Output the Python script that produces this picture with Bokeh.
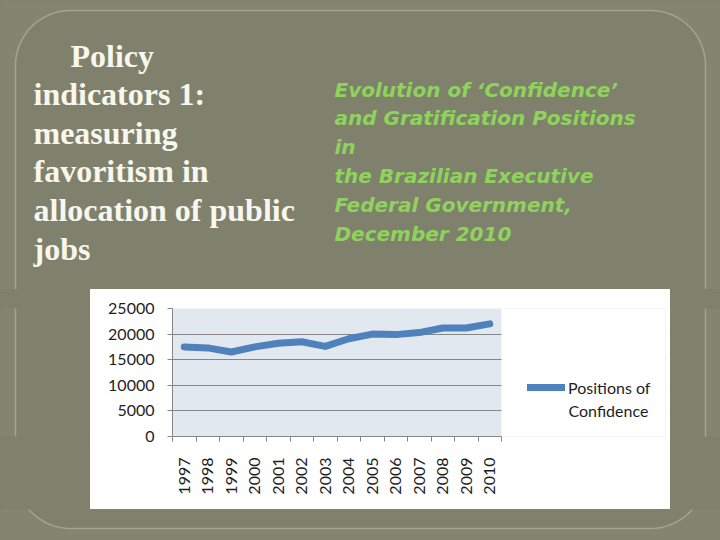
import math
from bokeh.plotting import figure
from bokeh.layouts import column, row
from bokeh.models import Range1d, FixedTicker, BoxAnnotation, Label, Legend, LegendItem
from bokeh.embed import file_html
from bokeh.resources import INLINE

# ---------------- data ----------------
years = ["1997", "1998", "1999", "2000", "2001", "2002", "2003",
         "2004", "2005", "2006", "2007", "2008", "2009", "2010"]
positions = [17500, 17300, 16500, 17500, 18200, 18500, 17600,
             19100, 20000, 19900, 20300, 21200, 21200, 22000]
y_ticks = [0, 5000, 10000, 15000, 20000, 25000]
series_label = ["Positions of", "Confidence"]
title_lines = ["Policy", "indicators 1:", "measuring", "favoritism in",
               "allocation of public", "jobs"]
subtitle_lines = ["Evolution of \u2018Confidence\u2019", "and Gratification Positions", "in",
                  "the Brazilian Executive", "Federal Government,", "December 2010"]

OUT = "#838571"
INNER = "#7f816d"
EDGE = "#a2a490"

# chart box (page pixels) and its plot frame borders
BOX_TOP, BOX_BOTTOM = 289, 509
B_TOP, B_BOTTOM = 19, 73


def rounded_outline(l, r, t, b, rad, n=16):
    """Outline of the slide's decorative rounded panel (page pixels, y downwards)."""
    xs, ys = [], []
    corners = [(r - rad, t + rad, -90, 0), (r - rad, b - rad, 0, 90),
               (l + rad, b - rad, 90, 180), (l + rad, t + rad, 180, 270)]
    for cx, cy, a0, a1 in corners:
        for k in range(n + 1):
            a = math.radians(a0 + (a1 - a0) * k / n)
            xs.append(cx + rad * math.cos(a))
            ys.append(cy + rad * math.sin(a))
    xs.append(xs[0])
    ys.append(ys[0])
    return xs, ys


PANEL_X, PANEL_Y = rounded_outline(15, 705, 10, 528, 55)


def tile(x0, x1, y0, y1, bt=0, bb=0, border=OUT):
    """Slide background piece; its ranges are page pixels (y downwards)."""
    f = figure(width=x1 - x0, height=y1 - y0, x_range=Range1d(x0, x1),
               y_range=Range1d(y1 - bb, y0 + bt),
               x_axis_type=None, y_axis_type=None, output_backend="svg",
               toolbar_location=None, min_border_left=0, min_border_right=0,
               min_border_top=bt, min_border_bottom=bb,
               styles={"background-color": INNER})
    f.outline_line_color = None
    f.background_fill_color = OUT
    f.border_fill_color = border
    f.patch(PANEL_X, PANEL_Y, fill_color=INNER, line_color=EDGE, line_width=1.5)
    return f


# ---------------- slide pieces ----------------
top = tile(0, 720, 0, BOX_TOP)
left = tile(0, 90, BOX_TOP, BOX_BOTTOM, B_TOP, B_BOTTOM, INNER)
right = tile(670, 720, BOX_TOP, BOX_BOTTOM, B_TOP, B_BOTTOM, INNER)
bottom = tile(0, 720, BOX_BOTTOM, 540)

for i, line in enumerate(title_lines):
    top.add_layout(Label(x=70 if i == 0 else 33, y=55 + 38.6 * i, text=line,
                         text_font="Liberation Serif", text_font_style="bold",
                         text_font_size="32px", text_color="#f8f7ee",
                         text_baseline="alphabetic", text_align="left"))

for i, line in enumerate(subtitle_lines):
    top.add_layout(Label(x=334, y=89 + 28.9 * i, text=line,
                         text_font="DejaVu Sans", text_font_style="bold italic",
                         text_font_size="20px", text_color="#8fd35c",
                         text_baseline="alphabetic", text_align="left"))

# ---------------- chart ----------------
PLOT_W, FRAME_W = 329, 493
x_end = len(years) * FRAME_W / PLOT_W
chart = figure(width=580, height=BOX_BOTTOM - BOX_TOP, output_backend="svg", toolbar_location=None,
               x_range=Range1d(0, x_end), y_range=Range1d(0, 25000),
               min_border_left=82, min_border_right=5, min_border_top=B_TOP, min_border_bottom=B_BOTTOM,
               styles={"background-color": "white"})
chart.border_fill_color = "white"
chart.background_fill_color = "#e2e8f0"
chart.outline_line_color = None

chart.xgrid.grid_line_color = None
chart.ygrid.grid_line_color = "#868686"
chart.ygrid.ticker = FixedTicker(ticks=y_ticks)
# white area for the legend (covers grid lines to the right of the plot area)
chart.add_layout(BoxAnnotation(left=len(years), right=x_end, bottom=0, top=25000,
                               fill_color="white", fill_alpha=1, line_color=None, level="underlay"))

xs = [i + 0.5 for i in range(len(years))]
r = chart.line(xs, positions, line_color="#4f81bd", line_width=7, line_join="round", line_cap="round")

chart.xaxis.bounds = (0, len(years))
chart.xaxis.ticker = FixedTicker(ticks=xs, minor_ticks=list(range(len(years) + 1)))
chart.xaxis.major_label_overrides = {x: y for x, y in zip(xs, years)}
chart.xaxis.major_label_orientation = math.pi / 2
chart.xaxis.major_tick_out = 0
chart.xaxis.major_tick_in = 0
chart.xaxis.minor_tick_out = 5
chart.xaxis.minor_tick_in = 0
chart.xaxis.minor_tick_line_color = "#868686"
chart.xaxis.major_label_standoff = 16

chart.yaxis.ticker = FixedTicker(ticks=y_ticks)
chart.yaxis.major_tick_out = 5
chart.yaxis.major_tick_in = 0
chart.yaxis.minor_tick_line_color = None
chart.yaxis.major_label_standoff = 13

for ax in (chart.xaxis[0], chart.yaxis[0]):
    ax.axis_line_color = "#868686"
    ax.major_tick_line_color = "#868686"
    ax.major_label_text_font = "Lato"
    ax.major_label_text_font_size = "16px"
    ax.major_label_text_color = "#1e1e1e"

legend = Legend(items=[LegendItem(label=series_label[0], renderers=[r])],
                location=(355, 39), padding=0, margin=0, spacing=0,
                glyph_width=38, glyph_height=20, label_standoff=3,
                label_text_font="Lato", label_text_font_size="16px", label_text_color="#1e1e1e",
                border_line_color=None, background_fill_alpha=0)
chart.add_layout(legend, "center")
chart.add_layout(Label(x=396, y=26, x_units="screen", y_units="screen", text=series_label[1],
                       text_font="Lato", text_font_size="16px", text_color="#1e1e1e",
                       text_baseline="alphabetic", text_align="left"))

middle = row(left, chart, right, styles={"background-color": INNER})
layout = column(top, middle, bottom, styles={"background-color": INNER})
open("out.html", "w").write(file_html(layout, INLINE))
